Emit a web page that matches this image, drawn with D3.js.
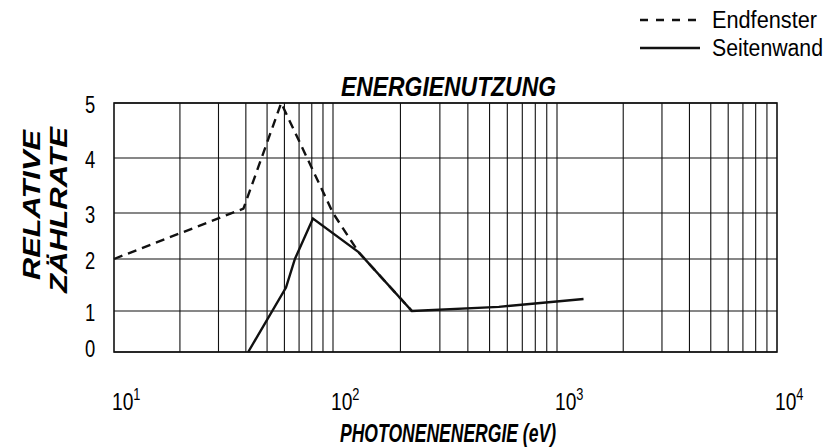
<!DOCTYPE html>
<meta charset="UTF-8"/>
<svg width="836" height="447"></svg>
<script src="https://d3js.org/d3.v7.min.js"></script>
<style>body{margin:0} * { font-family: 'Liberation Sans', Arial, sans-serif }</style>
<script>
// Endfenster (dashed) and Seitenwand (solid), photon energy in eV
var endX = [10, 39, 58, 100, 130, 225];
var endY = [2.0, 3.08, 5.0, 3.0, 2.15, 1.0];
var wandX = [41, 61, 67, 81, 130, 225, 550, 1320];
var wandY = [0, 1.45, 2.0, 2.88, 2.15, 1.0, 1.08, 1.23];
var yTicks = [0, 1, 2, 3, 4, 5];
var xDecades = [1, 2, 3, 4];

var svg = d3.select("svg");

// grid is hand drawn, so scales are piecewise
var x = d3.scaleLog().domain([10, 100, 1000, 10000]).range([114, 333, 557, 777]);
var y = d3.scaleLinear().domain(yTicks).range([352, 311, 259, 213, 158, 103]);

var g = svg.append("g");

var minors = [];
[10, 100, 1000].forEach(function(d) {
  for (var k = 2; k <= 9; k++) minors.push(d * k);
});
minors.push(100, 1000);
g.selectAll(".vg").data(minors).enter().append("line")
    .attr("x1", function(d) { return x(d); })
    .attr("x2", function(d) { return x(d); })
    .attr("y1", y(0)).attr("y2", y(5))
    .attr("stroke", "#111").attr("stroke-width", 1.1);

g.selectAll(".hg").data(yTicks).enter().append("line")
    .attr("x1", x(10)).attr("x2", x(10000))
    .attr("y1", function(d) { return y(d); })
    .attr("y2", function(d) { return y(d); })
    .attr("stroke", "#111").attr("stroke-width", 1.1);

g.append("rect")
    .attr("x", x(10)).attr("y", y(5))
    .attr("width", x(10000) - x(10)).attr("height", y(0) - y(5))
    .attr("fill", "none").attr("stroke", "#111").attr("stroke-width", 1.6);

var line = d3.line()
    .x(function(d) { return x(d[0]); })
    .y(function(d) { return y(d[1]); });

g.append("path")
    .datum(d3.zip(endX, endY))
    .attr("d", line)
    .attr("fill", "none").attr("stroke", "#111").attr("stroke-width", 2.4)
    .attr("stroke-dasharray", "9,6");

g.append("path")
    .datum(d3.zip(wandX, wandY))
    .attr("d", line)
    .attr("fill", "none").attr("stroke", "#111").attr("stroke-width", 2.4);

// condensed look: scale glyphs horizontally inside a positioned group
g.selectAll(".yl").data(yTicks).enter().append("g")
    .attr("transform", function(d) { return "translate(90," + (y(d) + (d == 0 ? -3 : 2)) + ") scale(0.8,1)"; })
  .append("text")
    .attr("dy", "0.35em")
    .attr("text-anchor", "middle")
    .style("font-size", "23px")
    .text(function(d) { return d; });

var xl = g.selectAll(".xl").data(xDecades).enter().append("g")
    .attr("transform", function(d) { return "translate(" + (x(Math.pow(10, d)) - 2) + ",410) scale(0.8,1)"; })
  .append("text")
    .style("font-size", "24px");
xl.append("tspan").text("10");
xl.append("tspan").attr("dy", -10).style("font-size", "16px").text(function(d) { return d; });

function bold(t) {
  return t.style("font-weight", "bold").style("font-style", "italic")
    .attr("lengthAdjust", "spacingAndGlyphs");
}

bold(svg.append("text")
    .attr("x", 341).attr("y", 96)
    .style("font-size", "27px")
    .attr("textLength", 215)
    .text("ENERGIENUTZUNG"));

bold(svg.append("text")
    .attr("x", 340).attr("y", 442)
    .style("font-size", "25px")
    .attr("textLength", 216)
    .text("PHOTONENENERGIE (eV)"));

bold(svg.append("text")
    .attr("transform", "translate(40,280) rotate(-90)")
    .style("font-size", "24px")
    .attr("textLength", 150)
    .text("RELATIVE"));
bold(svg.append("text")
    .attr("transform", "translate(67,293) rotate(-90)")
    .style("font-size", "24px")
    .attr("textLength", 166)
    .text("ZÄHLRATE"));

var legend = svg.append("g");
legend.append("line").attr("x1", 640).attr("x2", 700).attr("y1", 20).attr("y2", 20)
    .attr("stroke", "#111").attr("stroke-width", 2.4).attr("stroke-dasharray", "8,8");
legend.append("line").attr("x1", 640).attr("x2", 700).attr("y1", 48).attr("y2", 48)
    .attr("stroke", "#111").attr("stroke-width", 2.4);
legend.append("text").attr("x", 712).attr("y", 28).style("font-size", "23px")
    .attr("textLength", 105).attr("lengthAdjust", "spacingAndGlyphs").text("Endfenster");
legend.append("text").attr("x", 712).attr("y", 56).style("font-size", "23px")
    .attr("textLength", 111).attr("lengthAdjust", "spacingAndGlyphs").text("Seitenwand");
</script>
